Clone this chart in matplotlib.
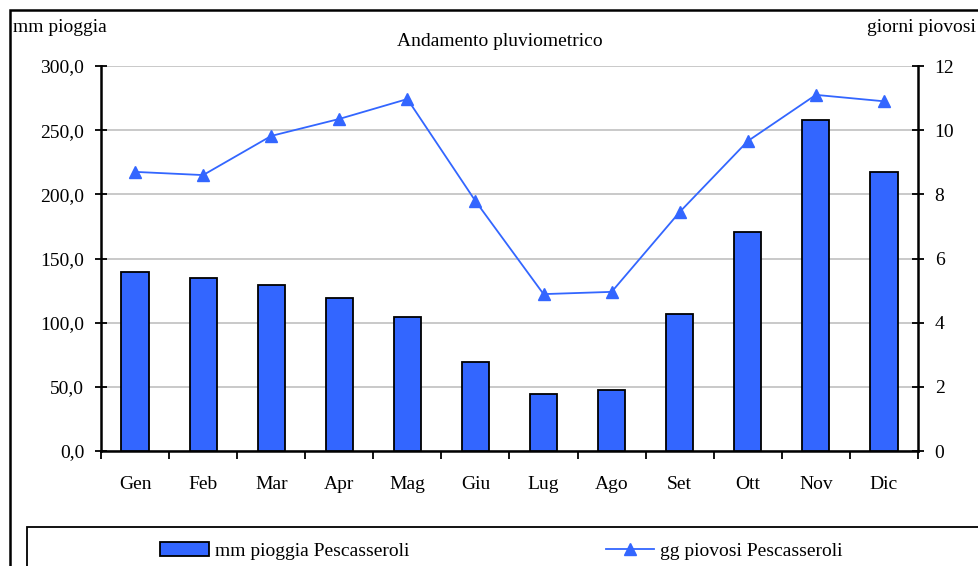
import matplotlib.pyplot as plt
from matplotlib.patches import Rectangle
from matplotlib.lines import Line2D
from matplotlib.ticker import FuncFormatter

mesi = ['Gen', 'Feb', 'Mar', 'Apr', 'Mag', 'Giu', 'Lug', 'Ago', 'Set', 'Ott', 'Nov', 'Dic']
mm_pioggia = [139.5, 134.8, 129.4, 119.2, 104.4, 69.4, 44.4, 47.5, 106.8, 170.6, 258.0, 217.4]
gg_piovosi = [8.7, 8.6, 9.82, 10.35, 10.97, 7.79, 4.89, 4.96, 7.45, 9.66, 11.1, 10.9]

plt.rcParams['font.family'] = ['Liberation Serif', 'DejaVu Serif']
fs = 14
blu = '#3366ff'

fig = plt.figure(figsize=(9.79, 5.66), dpi=100)
ax = fig.add_axes([101/979, 1 - 451/566, (918 - 101)/979, (451 - 66)/566])
x = list(range(len(mesi)))

ax.bar(x, mm_pioggia, width=0.4, color=blu, edgecolor='black', linewidth=1.3, zorder=3)
ax.set_xlim(-0.5, 11.5)
ax.set_ylim(0, 300)
ax.set_yticks([0, 50, 100, 150, 200, 250, 300])
ax.yaxis.set_major_formatter(FuncFormatter(lambda v, p: f'{v:.1f}'.replace('.', ',')))
ax.set_xticks(x)
ax.set_xticklabels(mesi)
ax.set_xticks([i + 0.5 for i in range(-1, 12)], minor=True)
ax.tick_params(axis='x', which='major', length=0, pad=18, labelsize=fs)
ax.tick_params(axis='x', which='minor', length=6, width=1.3, direction='out')
ax.tick_params(axis='y', length=8, width=1.3, direction='inout', labelsize=fs, pad=8)
ax.grid(axis='y', color='#c0c0c0', linewidth=1.2, zorder=0)
for s in ['top', 'right']:
    ax.spines[s].set_visible(False)
ax.spines['left'].set_linewidth(1.8)
ax.spines['bottom'].set_linewidth(1.8)

ax2 = ax.twinx()
ax2.plot(x, gg_piovosi, color=blu, marker='^', markersize=9, linewidth=1.3, zorder=4)
ax2.set_ylim(0, 12)
ax2.set_yticks([0, 2, 4, 6, 8, 10, 12])
ax2.tick_params(axis='y', length=8, width=1.3, direction='inout', labelsize=fs, pad=8)
for s in ['top', 'left', 'bottom']:
    ax2.spines[s].set_visible(False)
ax2.spines['right'].set_linewidth(1.8)

fig.text(500/979, 1 - 41/566, 'Andamento pluviometrico', ha='center', va='center', fontsize=fs)
fig.text(13/979, 1 - 28/566, 'mm pioggia', ha='left', va='center', fontsize=fs)
fig.text(976/979, 1 - 28/566, 'giorni piovosi', ha='right', va='center', fontsize=fs)

# cornice esterna e riquadro legenda
fig.patches.append(Rectangle((10/979, -0.1), 1.2, 1 - 10/566 + 0.1, transform=fig.transFigure,
                             fill=False, edgecolor='black', linewidth=1.8))
fig.patches.append(Rectangle((27/979, -0.1), 1.2, 1 - 527/566 + 0.1, transform=fig.transFigure,
                             fill=False, edgecolor='black', linewidth=1.3))

h1 = Rectangle((0, 0), 1, 1, facecolor=blu, edgecolor='black', linewidth=1.3)
h2 = Line2D([], [], color=blu, marker='^', markersize=9, linewidth=1.3)
fig.legend([h1, h2], ['mm pioggia Pescasseroli', 'gg piovosi Pescasseroli'],
           loc='center left', bbox_to_anchor=(143/979, 1 - 551/566), ncol=2,
           frameon=False, fontsize=fs, columnspacing=10.1, handlelength=2.5,
           handletextpad=0.3)

fig.savefig('out.png', dpi=100)
